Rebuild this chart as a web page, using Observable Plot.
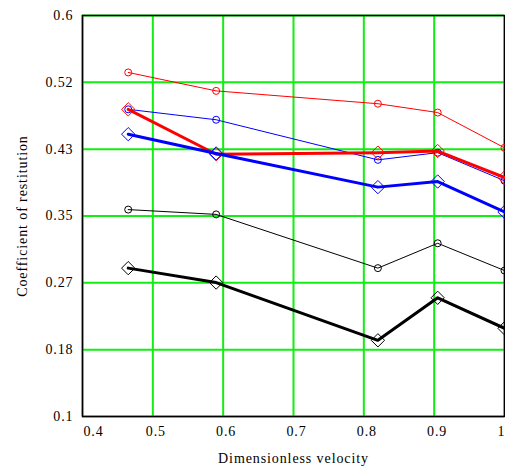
<!DOCTYPE html>
<html><head><meta charset="utf-8">
<script src="https://cdn.jsdelivr.net/npm/d3@7"></script>
<script src="https://cdn.jsdelivr.net/npm/@observablehq/plot@0.6"></script>
<style>
body{margin:0;background:#fff;} svg{display:block;}
</style>
</head><body><div id="chart"></div>
<script>
const velocity = [0.465, 0.59, 0.82, 0.905, 1.0];
const redThin = [0.529, 0.506, 0.490, 0.479, 0.435];
const blueThin = [0.483, 0.470, 0.420, 0.429, 0.394];
const redThick = [0.483, 0.427, 0.429, 0.431, 0.398];
const blueThick = [0.452, 0.428, 0.386, 0.393, 0.355];
const blackThin = [0.358, 0.352, 0.285, 0.316, 0.282];
const blackThick = [0.285, 0.267, 0.195, 0.248, 0.210];
const xTicks = [0.4, 0.5, 0.6, 0.7, 0.8, 0.9, 1.0];
const yTicks = [0.1, 0.1833, 0.2667, 0.35, 0.4333, 0.5167, 0.6];

const series = [
  {name: "redThin", values: redThin, color: "#ff0000", width: 1, symbol: "circle", r: 3.5},
  {name: "blueThin", values: blueThin, color: "#0000ff", width: 1, symbol: "circle", r: 3.5},
  {name: "blackThin", values: blackThin, color: "#000000", width: 1, symbol: "circle", r: 3.5},
  {name: "redThick", values: redThick, color: "#ff0000", width: 3, symbol: "diamond2", r: 6},
  {name: "blueThick", values: blueThick, color: "#0000ff", width: 3, symbol: "diamond2", r: 6},
  {name: "blackThick", values: blackThick, color: "#000000", width: 3, symbol: "diamond2", r: 6}
];

const FONT = "Liberation Serif";
const fmt = d3.format(".2~f");
const marks = [
  Plot.gridX(xTicks, {stroke: "#11ee11", strokeOpacity: 1, strokeWidth: 2}),
  Plot.gridY(yTicks, {stroke: "#11ee11", strokeOpacity: 1, strokeWidth: 2}),
  Plot.frame({stroke: "#000", strokeWidth: 1.5}),
  Plot.axisX(xTicks.filter(t => t === xTicks[0]), {tickSize: 0, tickPadding: 10, tickFormat: d => fmt(d), fontSize: 14, fontFamily: FONT, dx: 11, label: null}),
  Plot.axisX(xTicks.filter(t => t !== xTicks[0] && t !== xTicks[xTicks.length - 1]), {tickSize: 0, tickPadding: 10, tickFormat: d => fmt(d), fontSize: 14, fontFamily: FONT, dx: 3,
    label: "Dimensionless velocity", labelAnchor: "center", labelOffset: 46, labelArrow: false}),
  Plot.axisX(xTicks.filter(t => t === xTicks[xTicks.length - 1]), {tickSize: 0, tickPadding: 10, tickFormat: d => fmt(d), fontSize: 14, fontFamily: FONT, textAnchor: "end", dx: 1, label: null}),
  Plot.axisY(yTicks, {tickSize: 0, tickPadding: 9, tickFormat: d => fmt(d), fontSize: 14, fontFamily: FONT,
    label: "Coefficient of restitution", labelAnchor: "center", labelOffset: 65, labelArrow: false})
];
series.forEach(s => {
  const data = s.values.map((v, i) => ({x: velocity[i], y: v}));
  marks.push(Plot.line(data, {x: "x", y: "y", stroke: s.color, strokeWidth: s.width}));
  marks.push(Plot.dot(data, {x: "x", y: "y", stroke: s.color, symbol: s.symbol, r: s.r, fill: "none", strokeWidth: 1}));
});
const chart = Plot.plot({
  width: 505, height: 468,
  marginLeft: 82, marginRight: 1, marginTop: 15, marginBottom: 52,
  style: {fontFamily: FONT, fontSize: "14px", color: "#000", background: "#fff"},
  x: {domain: [0.4, 1.0]},
  y: {domain: [0.1, 0.6]},
  marks
});
d3.select(chart).selectAll("text, g")
  .attr("font-family", FONT)
  .style("font-family", FONT)
  .style("letter-spacing", "0.9px");
document.getElementById("chart").append(chart);
</script>
</body></html>
